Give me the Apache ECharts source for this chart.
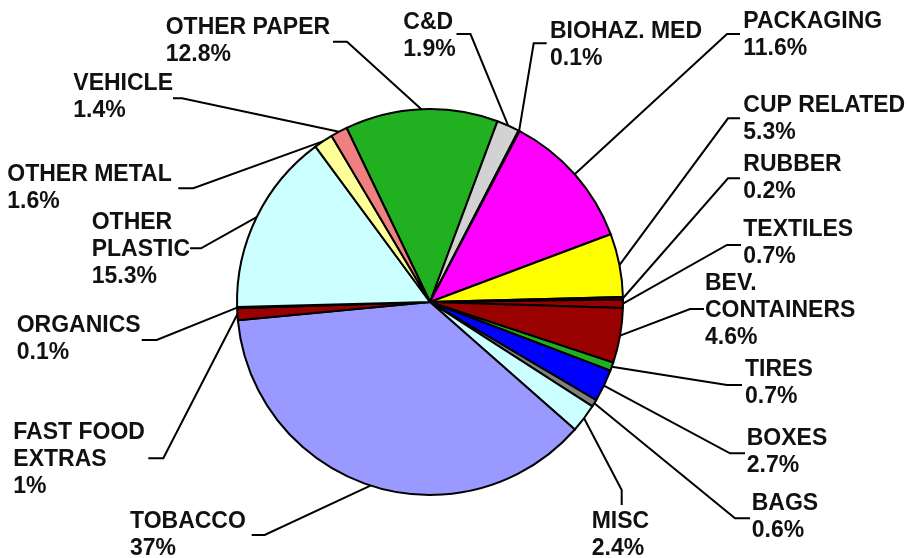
<!DOCTYPE html>
<html>
<head>
<meta charset="utf-8">
<script src="https://cdn.jsdelivr.net/npm/echarts@6/dist/echarts.min.js"></script>
<style>
html,body{margin:0;padding:0;background:#fff;}
#chart{width:909px;height:558px;}
</style>
</head>
<body>
<div id="chart"></div>
<script>
// ---- data (clockwise, starting at OTHER PAPER) ----
const categories = ['OTHER PAPER','C&D','BIOHAZ. MED','PACKAGING','CUP RELATED','RUBBER','TEXTILES','BEV. CONTAINERS','TIRES','BOXES','BAGS','MISC','TOBACCO','FAST FOOD EXTRAS','ORGANICS','OTHER PLASTIC','OTHER METAL','VEHICLE'];
const labelNames = ['OTHER PAPER','C&D','BIOHAZ. MED','PACKAGING','CUP RELATED','RUBBER','TEXTILES','BEV.\nCONTAINERS','TIRES','BOXES','BAGS','MISC','TOBACCO','FAST FOOD\nEXTRAS','ORGANICS','OTHER\nPLASTIC','OTHER METAL','VEHICLE'];
const shares = [12.8, 1.9, 0.1, 11.6, 5.3, 0.2, 0.7, 4.6, 0.7, 2.7, 0.6, 2.4, 37, 1, 0.1, 15.3, 1.6, 1.4];

// ---- styling ----
const sliceColors = ['#20b020','#d2d2d2','#808080','#ff00ff','#ffff00','#cc0000','#990000','#990000','#20b020','#0000ff','#808080','#ccffff','#9999ff','#990000','#ff8080','#ccffff','#ffff99','#f08080'];
// label placement: [textLeft, firstLineCenterY, lineEndX, lineEndY, elbowDx, elbowDy]
const labelPlacement = [
  [165.7, 28, 333, 41.7, 14, 0],
  [403.3, 22.5, 456.5, 34, 14, 0],
  [550, 31.7, 546.7, 43.3, -13, 0],
  [743.3, 21.7, 740, 34, -13, 0],
  [743.3, 105.8, 740, 118.3, -12, 0],
  [743.3, 165, 740, 178.3, -12, 0],
  [743.3, 230, 741, 245, -14, 0],
  [705, 283.3, 704, 309, -14, 0],
  [745, 370, 742, 385, -15, 0],
  [746.7, 439, 745, 453.3, -15, 0],
  [751.7, 504, 750, 518.3, -15, 0],
  [591.7, 521.7, 621.7, 505, 0, -15],
  [130, 521.7, 251.7, 535, 13, 0],
  [13.3, 432.5, 148.3, 458.3, 15, 0],
  [16.7, 325.8, 141.7, 340, 15, 0],
  [91.7, 222.5, 190, 248.3, 11, 0],
  [7.3, 174.2, 178.3, 188.3, 15, 0],
  [73.3, 83.3, 173, 98.3, 9, 0]
];
const LH = 27;

const chart = echarts.init(document.getElementById('chart'), null, {renderer: 'canvas'});
chart.setOption({
  animation: false,
  backgroundColor: '#fff',
  series: [{
    type: 'pie',
    center: [430, 302],
    radius: [0, 193],
    startAngle: 115.6,
    clockwise: true,
    avoidLabelOverlap: false,
    minAngle: 0,
    emphasis: {disabled: true},
    itemStyle: {borderColor: '#000', borderWidth: 2},
    label: {
      show: true,
      position: 'outside',
      fontFamily: '"Liberation Sans", Arial, sans-serif',
      fontWeight: 'bold',
      fontSize: 23,
      lineHeight: LH,
      color: '#111',
      align: 'left',
      formatter: p => labelNames[p.dataIndex] + '\n' + p.value + '%'
    },
    labelLine: {show: true, length: 20, length2: 14, lineStyle: {color: '#000', width: 2}},
    labelLayout: function (params) {
      const L = labelPlacement[params.dataIndex];
      const end = [L[2], L[3]];
      const elbow = [L[2] + L[4], L[3] + L[5]];
      const pts = params.labelLinePoints;
      const start = pts && pts[0] ? pts[0] : elbow;
      return {
        x: L[0],
        y: L[1] - LH / 2,
        align: 'left',
        verticalAlign: 'top',
        labelLinePoints: [start, elbow, end]
      };
    },
    data: categories.map((c, i) => ({name: c, value: shares[i], itemStyle: {color: sliceColors[i]}}))
  }]
});
</script>
</body>
</html>
